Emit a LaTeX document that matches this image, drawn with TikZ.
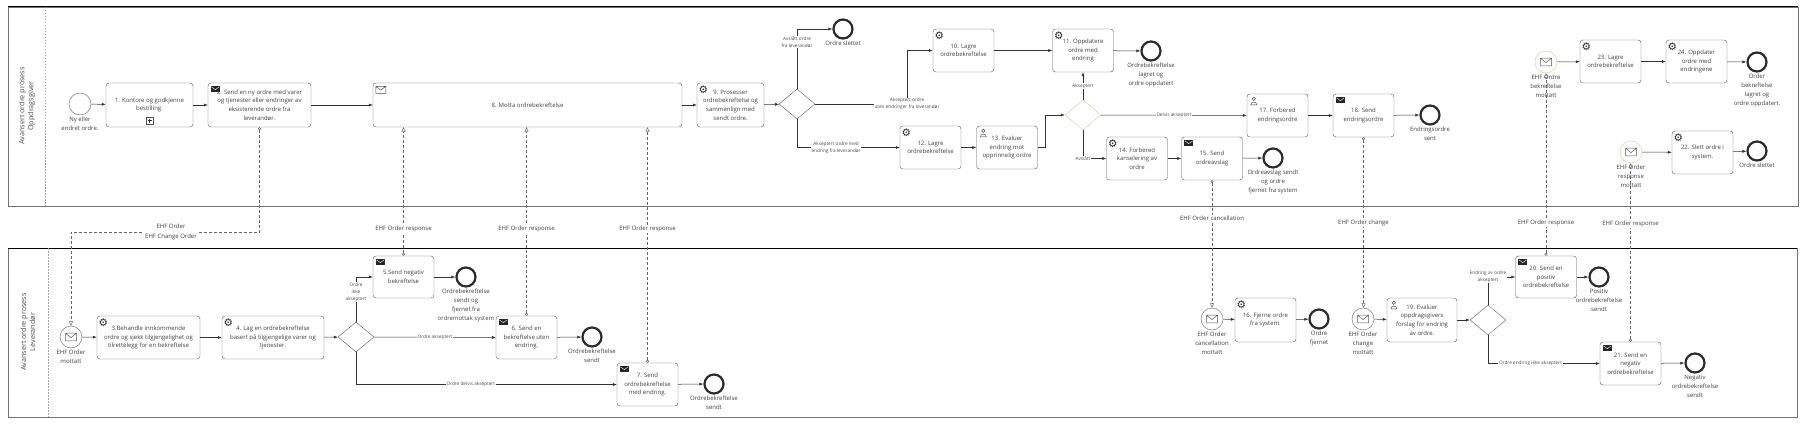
\documentclass[tikz,border=0pt]{standalone}
\usepackage{fontspec}
\setmainfont{Open Sans}
\newfontfamily\symfont{DejaVu Sans}
\usetikzlibrary{shapes.geometric,arrows.meta,positioning,calc}
\definecolor{paleedge}{RGB}{205,205,165}

\begin{document}
\begin{tikzpicture}[x=1pt,y=-1pt]
\tikzset{pool/.style={draw=black!55, line width=0.7pt}, lane/.style={draw=black!35, dash pattern=on 1.5pt off 1.5pt},
 title/.style={font=\fontsize{7.2}{9}\selectfont, text=black!70, align=center},
 task/.style={draw=black!65, rounded corners=3pt, align=center, minimum width=61pt, minimum height=43pt, inner sep=1pt, font=\fontsize{6}{8.6}\selectfont, text=black!75},
 start/.style={circle, draw=black!60, minimum size=22pt, inner sep=0pt},
 stop/.style={circle, draw=black!90!olive, line width=2.2pt, minimum size=19pt, inner sep=0pt},
 gate/.style={diamond, draw=black!65, minimum width=36pt, minimum height=30pt, inner sep=0pt},
 flow/.style={draw=black!80, line width=0.5pt, -{Latex[length=4pt,width=3pt]}},
 msg/.style={draw=black!60, line width=0.5pt, dash pattern=on 3pt off 2pt, {Circle[open,length=3pt]}-{Triangle[open,length=4.5pt,width=4pt]}},
 lbl/.style={font=\fontsize{6}{8.8}\selectfont, text=black!75, align=center, inner sep=0.5pt},
 glbl/.style={font=\fontsize{4.7}{6.8}\selectfont, text=black!70, align=center, fill=white, inner sep=0.6pt},
 mlbl/.style={font=\fontsize{6}{9.5}\selectfont, text=black!75, align=center, fill=white, inner sep=1pt},
 ev/.style={label={[lbl, label distance=1pt]below:#1}},
 sendicon/.pic={\fill[black!85] (0,0) rectangle (9,6); \draw[white, line width=0.4pt] (0.6,0.6) -- (4.5,3.3) -- (8.4,0.6);},
 recvicon/.pic={\draw[black!70, line width=0.5pt] (0,0) rectangle (10,7) (0,0) -- (5,3.8) -- (10,0);},
 gearicon/.pic={\node[inner sep=0pt, text=black!85, font=\symfont\fontsize{10.5}{10.5}\selectfont] {⚙};},
 usericon/.pic={\draw[black!70, line width=0.5pt] (0,-2) circle (1.7) (-3,4) .. controls (-3,0.4) and (3,0.4) .. (3,4) -- cycle;},
 mailicon/.pic={\draw[black!65, line width=0.5pt] (-5.5,-3.8) rectangle (5.5,3.8) (-5.5,-3.8) -- (0,0.6) -- (5.5,-3.8);}}

\fill[white] (0,0) rectangle (1804,425);
\useasboundingbox (0,0) rectangle (1804,425);

% pools
\draw[pool] (8,7) rectangle (1798,206);
\draw[black, line width=1pt] (8,7) -- (1798,7);
\draw[lane] (45,7) -- (45,206);
\node[title, rotate=90] (p1) at (27,106) {Avansert ordre prosess\\Oppdragsgiver};
\draw[pool] (8,248) rectangle (1797,417);
\draw[black, line width=1pt] (8,248) -- (1797,248);
\draw[lane] (48,248) -- (48,417);
\node[title, rotate=90] (p2) at (28,332) {Avansert ordre prosess\\Leverandør};

% oppdragsgiver
\node[start, ev={Ny eller\\endret ordre.}] (ny) at (80,104) {};
\node[task, minimum width=87pt, minimum height=44pt] (t1) at (149.5,105) {1. Kontore og godkjenne\\bestilling.};
\node[task, minimum width=103pt, minimum height=44pt] (t2) at (259.5,105) {2. Send en ny ordre med varer\\og tjenester eller endringer av\\eksisterende ordre fra\\leverandør.};
\node[task, minimum width=309pt, minimum height=44pt] (t8) at (527.5,105) {8. Motta ordrebekreftelse};
\node[task, minimum width=67pt, minimum height=44pt] (t9) at (730.5,105) {9. Prosesser\\ordrebekreftelse og\\sammenlign med\\sendt ordre.};
\node[gate] (g1) at (797,104) {};
\node[stop, ev={Ordre slettet}] (slettet) at (843,29) {};
\node[task] (t10) at (963.5,50.5) {10. Lagre\\ordrebekreftelse};
\node[task] (t11) at (1083,50.5) {11. Oppdatere\\ordre med\\endring};
\node[stop, ev={Ordrebekreftelse\\lagret og\\ordre oppdatert}] (lagret) at (1151,51) {};
\node[task] (t12) at (930.5,147.5) {12. Lagre\\ordrebekreftelse};
\node[task] (t13) at (1007,147.5) {13. Evaluer\\endring mot\\opprinnelig ordre};
\node[gate, draw=paleedge] (g2) at (1083,115) {};
\node[task] (t14) at (1137,158.5) {14. Forbered\\kanselering av\\ordre};
\node[task] (t15) at (1212,158.5) {15. Send\\ordreavslag};
\node[stop, ev={Ordreavslag sendt\\og ordre\\fjernet fra system}] (avslag) at (1273,158) {};
\node[task] (t17) at (1277.5,115.5) {17. Forbered\\endringsordre};
\node[task] (t18) at (1363.5,115.5) {18. Send\\endringsordre};
\node[stop, ev={Endringsordre\\sent}] (sent) at (1430,115) {};
\node[start, draw=paleedge, ev={EHF Ordre\\bekreftelse\\mottatt}] (bekr) at (1546,62) {};
\node[task] (t23) at (1610.5,61.5) {23. Lagre\\ordrebekreftelse};
\node[task] (t24) at (1696.5,61.5) {24. Oppdater\\ordre med\\endringene};
\node[stop, ev={Order\\bekreftelse\\lagret og\\ordre oppdatert.}] (oppdatert) at (1757,62) {};
\node[start, draw=paleedge, ev={EHF Order\\response\\mottatt}] (resp) at (1631,152) {};
\node[task] (t22) at (1702.5,152.5) {22. Slett ordre i\\system.};
\node[stop, ev={Ordre slettet}] (slettet2) at (1757,151) {};

% leverandor
\node[start, ev={EHF Order\\mottatt}] (order) at (71,337) {};
\node[task, minimum width=103pt] (t3) at (148.5,337.5) {3.Behandle innkommende\\ordre og sjekk tilgjengelighet og\\tilrettelegg for en bekreftelse};
\node[task, minimum width=102pt] (t4) at (273,337.5) {4. Lag en ordrebekreftelse\\basert på tilgjengelige varer og\\tjenester.};
\node[gate] (g3) at (356,337) {};
\node[task, minimum height=42pt] (t5) at (403.5,277) {5.Send negativ\\bekreftelse};
\node[stop, ev={Ordrebekreftelse\\sendt og\\fjernet fra\\ordremottak system}] (e5) at (466,277) {};
\node[task] (t6) at (526.5,337.5) {6. Send en\\bekreftelse uten\\endring.};
\node[stop, ev={Ordrebekreftelse\\sendt}] (e6) at (592,337) {};
\node[task] (t7) at (647.5,384.5) {7. Send\\ordrebekreftelse\\med endring.};
\node[stop, ev={Ordrebekreftelse\\sendt}] (e7) at (714,384) {};
\node[start, ev={EHF Order\\cancellation\\mottatt}] (cancel) at (1212,319) {};
\node[task, minimum height=44pt] (t16) at (1265.5,320) {16. Fjerne ordre\\fra system.};
\node[stop, ev={Ordre\\fjernet}] (fjernet) at (1319,319) {};
\node[start, ev={EHF Order\\change\\mottatt}] (change) at (1363,319) {};
\node[task, minimum width=70pt, minimum height=44pt] (t19) at (1422,320) {19. Evaluer\\oppdragsgivers\\forslag for endring\\av ordre.};
\node[gate] (g4) at (1488,320) {};
\node[task, minimum height=42pt] (t20) at (1546,277) {20. Send en\\positiv\\ordrebekreftelse};
\node[stop, ev={Positiv\\ordrebekreftelse\\sendt}] (e20) at (1599,277) {};
\node[task] (t21) at (1630.5,363.5) {21. Send en\\negativ\\ordrebekreftelse};
\node[stop, ev={Negativ\\ordrebekreftelse\\sendt}] (e21) at (1695,363) {};

% sequence flows
\draw[flow] (ny) -- (t1);
\draw[flow] (t1) -- (t2);
\draw[flow] (t2) -- (t8);
\draw[flow] (t8) -- (t9);
\draw[flow] (t9) -- (g1);
\draw[flow] (g1.north) |- (slettet) node[glbl, pos=0.39] {Avslått ordre\\fra leverandør};
\coordinate (c1) at (907,104);
\draw[flow] (g1.east) -- (c1) |- (t10);
\node[glbl] (l1) at (c1) {Akseptert ordre\\uten endringer fra leverandør};
\draw[flow] (g1.south) |- (t12) node[glbl, pos=0.69] {Akseptert ordre med\\endring fra leverandør};
\draw[flow] (t10) -- (t11);
\draw[flow] (t11) -- (lagret);
\draw[flow] (t12) -- (t13);
\draw[flow] (t13.east) -- ++(8,0) |- (g2.west);
\draw[flow] (g2.north) -- (t11.south) node[glbl, midway] {Akseptert};
\draw[flow] (g2.east) -- (t17) node[glbl, midway] {Delvis akseptert};
\draw[flow] (g2.south) |- (t14) node[glbl, pos=0.5] {Avslått};
\draw[flow] (t14) -- (t15);
\draw[flow] (t15) -- (avslag);
\draw[flow] (t17) -- (t18);
\draw[flow] (t18) -- (sent);
\draw[flow] (bekr) -- (t23);
\draw[flow] (t23) -- (t24);
\draw[flow] (t24) -- (oppdatert);
\draw[flow] (resp) -- (t22);
\draw[flow] (t22) -- (slettet2);
\draw[flow] (order) -- (t3);
\draw[flow] (t3) -- (t4);
\draw[flow] (t4) -- (g3);
\draw[flow] (g3.north) |- (t5) node[glbl, pos=0.33] {Ordre\\ikke\\akseptert};
\draw[flow] (g3.east) -- (t6) node[glbl, midway] {Ordre akseptert};
\draw[flow] (g3.south) |- (t7) node[glbl, pos=0.72] {Ordre delvis akseptert};
\draw[flow] (t5) -- (e5);
\draw[flow] (t6) -- (e6);
\draw[flow] (t7) -- (e7);
\draw[flow] (cancel) -- (t16);
\draw[flow] (t16) -- (fjernet);
\draw[flow] (change) -- (t19);
\draw[flow] (t19) -- (g4);
\draw[flow] (g4.north) |- (t20) node[glbl, pos=0.5] {Endring av ordre\\akseptert};
\draw[flow] (g4.south) |- (t21) node[glbl, pos=0.69] {Ordre endring ikke akseptert};
\draw[flow] (t20) -- (e20);
\draw[flow] (t21) -- (e21);

% message flows
\coordinate (m1) at (171,232);
\draw[msg] (t2.south) |- (m1) -| (order.north);
\node[mlbl] (l2) at (m1) {EHF Order\\EHF Change Order};
\draw[msg] (t5.north) -- (t5.north |- t8.south) node[mlbl, pos=0.21] {EHF Order response};
\draw[msg] (t6.north) -- (t6.north |- t8.south) node[mlbl, pos=0.46] {EHF Order response};
\draw[msg] (t7.north) -- (t7.north |- t8.south) node[mlbl, pos=0.57] {EHF Order response};
\draw[msg] (t15.south) -- (cancel.north) node[mlbl, pos=0.30] {EHF Order cancellation};
\draw[msg] (t18.south) -- (t18.south |- change.north) node[mlbl, pos=0.50] {EHF Order change};
\draw[msg] (t20.north) -- (t20.north |- bekr.south) node[mlbl, pos=0.18] {EHF Order response};
\draw[msg] (t21.north) -- (t21.north |- resp.south) node[mlbl, pos=0.66] {EHF Order response};

% markers
\foreach \t in {t2,t5,t6,t7,t15,t18,t20,t21} \pic at ([shift={(3,3.5)}]\t.north west) {sendicon};
\foreach \t in {t9,t10,t11,t12,t14,t16,t22,t23,t24,t3,t4} \pic at ([shift={(6.5,7)}]\t.north west) {gearicon};
\foreach \t in {t13,t17,t19} \pic at ([shift={(7,7)}]\t.north west) {usericon};
\foreach \e in {bekr,resp,order,cancel,change} \pic at (\e) {mailicon};
\pic at ([shift={(3,3.5)}]t8.north west) {recvicon};
\draw[black!70, line width=0.5pt] ($(t1.south)+(-3.5,-10)$) rectangle ++(7,7);
\draw[black!80, line width=0.8pt] ($(t1.south)+(-2,-6.5)$) -- ++(4,0) ($(t1.south)+(0,-8.5)$) -- ++(0,4);
\end{tikzpicture}
\end{document}
